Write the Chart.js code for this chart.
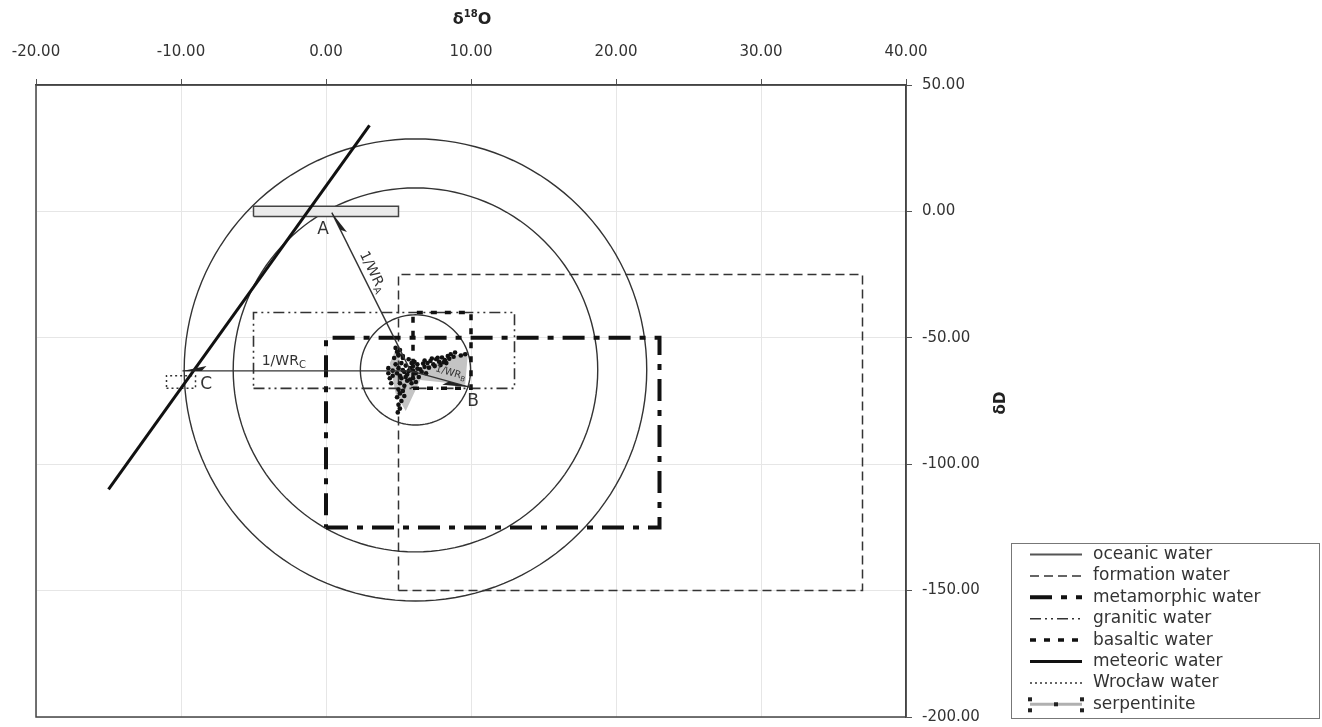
<!DOCTYPE html>
<html>
<head>
<meta charset="utf-8">
<script src="https://cdn.jsdelivr.net/npm/chart.js@4"></script>
<style>
  html, body { margin: 0; padding: 0; background: #fff; }
  #wrap { width: 1322px; height: 727px; position: relative; }
</style>
</head>
<body>
<div id="wrap"><canvas id="plot"></canvas></div>
<script>
// axis ticks
const xTicks = [-20, -10, 0, 10, 20, 30, 40];
const yTicks = [-200, -150, -100, -50, 0, 50];

// water fields as boxes: [min, max]
const formationX = [5, 37],     formationY = [-150, -25];
const metamorphicX = [0, 23],   metamorphicY = [-125, -50];
const graniticX = [-5, 13],     graniticY = [-70, -40];
const basalticX = [6, 10],      basalticY = [-70, -40];
const wroclawX = [-11, -9],     wroclawY = [-70, -65];
const serpentiniteX = [-5, 5],  serpentiniteY = [-2, 2];

// meteoric water line
const meteoricX = [-15, 3];
const meteoricY = [-110, 34];

// circles round the sample mean
const circleCenter = [6.17, -62.7];
const circleRx = [3.8, 12.57, 15.95];
const circleRy = [21.8, 72.0, 91.4];

// 1/WR arrows: start, then ends A, B, C
const arrowStart = [5.83, -63.1];
const arrowEndX = [0.4, 9.97, -9.9];
const arrowEndY = [-0.5, -69.6, -63.1];

// samples
const sampleX = [5.2, 5.5, 5.8, 6.0, 5.4, 5.0, 5.6, 6.2, 6.5, 6.8, 5.9, 5.3, 5.7, 6.1, 4.9, 5.2, 5.6, 6.0, 6.4, 6.9,
  5.1, 5.4, 5.9, 4.8, 5.0, 6.3, 6.6, 5.5, 6.0, 5.3, 5.7, 6.3, 5.1, 6.7, 5.8, 6.2,
  7.0, 7.2, 7.4, 7.6, 7.8, 8.0, 8.2, 8.4, 8.6, 8.8, 8.9, 7.1, 7.5, 7.9, 8.3, 6.8, 9.3, 9.6, 7.3, 7.7, 8.1, 8.5,
  5.0, 5.1, 4.9, 5.2, 5.0, 5.1, 5.3, 5.4, 4.95,
  4.3, 4.3, 4.4, 4.5, 4.6, 4.6,
  4.8, 4.9, 5.0, 5.1, 4.7, 5.3];
const sampleY = [-60, -61, -62, -63, -63.5, -62, -64.5, -64, -62.5, -61.5, -60, -58, -58.5, -59.5, -64, -66, -67, -66, -65.5, -64,
  -68, -69, -68, -60.5, -57, -60.5, -63.5, -65.5, -61.3, -62.8, -63.2, -62.2, -65, -60.2, -66.5, -67.5,
  -60, -59.2, -60.5, -58.5, -59.5, -57.8, -58.8, -57.2, -56.5, -57.5, -55.8, -61.8, -61.2, -60.8, -60, -59, -57, -56.5, -58.2, -57.9, -59.7, -58.3,
  -70.5, -72, -73.5, -75, -76.5, -78, -71, -73, -79.5,
  -62, -64, -66, -68, -63, -65,
  -54, -55.5, -56.5, -54.8, -58, -57.2];

// grey spread of the samples
const hullX = [5.3, 9.8, 9.6, 6.5, 5.5, 4.8, 4.4, 4.9, 5.3];
const hullY = [-64.7, -55.2, -68.6, -66.7, -79, -72, -60, -53.5, -64.7];

// labels
const pointLabels = ['A', 'B', 'C'];
const pointLabelX = [-0.21, 10.15, -8.26];
const pointLabelY = [-7, -75.4, -68.7];
const wrSubs = ['A', 'B', 'C'];
const wrLabelX = [3.2, 8.59, -2.91];
const wrLabelY = [-24.0, -63.9, -59.2];
const wrRotation = [64, 16, 0];
const wrSize = [14, 10, 14];

const legendLabels = ['oceanic water', 'formation water', 'metamorphic water', 'granitic water',
  'basaltic water', 'meteoric water', 'Wrocław water', 'serpentinite'];

const STYLE = {
  'oceanic water':     { color: '#555', width: 2,   dash: [] },
  'formation water':   { color: '#333', width: 1.5, dash: [9, 5] },
  'metamorphic water': { color: '#111', width: 4,   dash: [22, 9, 6, 9] },
  'granitic water':    { color: '#333', width: 1.6, dash: [11, 4, 2, 4, 2, 4] },
  'basaltic water':    { color: '#111', width: 3.5, dash: [6, 8] },
  'meteoric water':    { color: '#111', width: 3,   dash: [] },
  'Wrocław water':     { color: '#333', width: 1.5, dash: [2, 3] },
  'serpentinite':      { color: '#444', width: 1.5, dash: [], fill: '#ebebeb' }
};

function rect(xs, ys) {
  return [{x: xs[0], y: ys[0]}, {x: xs[1], y: ys[0]}, {x: xs[1], y: ys[1]},
          {x: xs[0], y: ys[1]}, {x: xs[0], y: ys[0]}];
}
function pairs(xs, ys) {
  return xs.map((v, i) => ({x: v, y: ys[i]}));
}
function ellipse(i) {
  const pts = [];
  for (let k = 0; k <= 144; k++) {
    const t = k / 144 * 2 * Math.PI;
    pts.push({x: circleCenter[0] + circleRx[i] * Math.cos(t), y: circleCenter[1] + circleRy[i] * Math.sin(t)});
  }
  return pts;
}
function lineSet(label, data, st, order) {
  return {
    label: label, data: data, showLine: true, pointRadius: 0, tension: 0,
    borderColor: st.color, borderWidth: st.width,
    // a dash with no gap keeps Chart.js off its x-sorted fast path
    borderDash: st.dash.length ? st.dash : [4000, 0],
    borderJoinStyle: 'miter', fill: st.fill ? 'shape' : false,
    backgroundColor: st.fill || 'transparent', order: order
  };
}

const thin = { color: '#333', width: 1.4, dash: [] };
const datasets = [
  { label: 'spread', data: pairs(hullX, hullY), showLine: true, pointRadius: 0, borderWidth: 0,
    borderColor: 'rgba(0,0,0,0)', backgroundColor: '#c4c4c4', fill: 'shape', order: 20 },
  lineSet('circle1', ellipse(0), thin, 10),
  lineSet('circle2', ellipse(1), thin, 10),
  lineSet('circle3', ellipse(2), thin, 10),
  lineSet('formation water', rect(formationX, formationY), STYLE['formation water'], 9),
  lineSet('metamorphic water', rect(metamorphicX, metamorphicY), STYLE['metamorphic water'], 8),
  lineSet('granitic water', rect(graniticX, graniticY), STYLE['granitic water'], 7),
  lineSet('basaltic water', rect(basalticX, basalticY), STYLE['basaltic water'], 6),
  lineSet('Wrocław water', rect(wroclawX, wroclawY), STYLE['Wrocław water'], 6),
  lineSet('serpentinite', rect(serpentiniteX, serpentiniteY), STYLE['serpentinite'], 5),
  lineSet('meteoric water', pairs(meteoricX, meteoricY), STYLE['meteoric water'], 4),
  { label: 'samples', data: pairs(sampleX, sampleY), showLine: false, pointRadius: 2.3,
    pointBorderWidth: 0, backgroundColor: '#111', order: 3 }
];
arrowEndX.forEach((x, i) => {
  datasets.push(lineSet('arrow' + i, [{x: arrowStart[0], y: arrowStart[1]}, {x: x, y: arrowEndY[i]}], thin, 2));
});

const FONT = 'DejaVu Sans';

function textSub(ctx, main, sub, x, y, size, rot) {
  ctx.save();
  ctx.translate(x, y);
  ctx.rotate(rot * Math.PI / 180);
  ctx.font = size + 'px "' + FONT + '"';
  const w1 = ctx.measureText(main).width;
  ctx.font = Math.round(size * 0.7) + 'px "' + FONT + '"';
  const w2 = ctx.measureText(sub).width;
  const x0 = -(w1 + w2) / 2;
  ctx.textBaseline = 'middle';
  ctx.textAlign = 'left';
  ctx.font = size + 'px "' + FONT + '"';
  ctx.fillText(main, x0, 0);
  ctx.font = Math.round(size * 0.7) + 'px "' + FONT + '"';
  ctx.fillText(sub, x0 + w1, size * 0.3);
  ctx.restore();
}

const decor = {
  id: 'decor',
  beforeDatasetsDraw(chart) {
    const {ctx, chartArea: a} = chart;
    ctx.save();
    ctx.strokeStyle = '#444';
    ctx.lineWidth = 1.5;
    ctx.strokeRect(a.left, a.top, a.right - a.left, a.bottom - a.top);
    ctx.restore();
  },
  afterDatasetsDraw(chart) {
    const {ctx} = chart;
    const sx = chart.scales.x, sy = chart.scales.y;
    ctx.save();
    // arrow heads
    const x0 = sx.getPixelForValue(arrowStart[0]), y0 = sy.getPixelForValue(arrowStart[1]);
    arrowEndX.forEach((v, i) => {
      const x1 = sx.getPixelForValue(v), y1 = sy.getPixelForValue(arrowEndY[i]);
      const len = Math.hypot(x1 - x0, y1 - y0);
      const dx = (x1 - x0) / len, dy = (y1 - y0) / len;
      const L = i === 1 ? 28 : 24, W = 5;
      ctx.fillStyle = '#222';
      ctx.beginPath();
      ctx.moveTo(x1, y1);
      ctx.lineTo(x1 - dx * L - dy * W, y1 - dy * L + dx * W);
      ctx.lineTo(x1 - dx * L * 0.8, y1 - dy * L * 0.8);
      ctx.closePath();
      ctx.fill();
    });
    // labels
    ctx.fillStyle = '#333';
    ctx.textAlign = 'center';
    ctx.textBaseline = 'middle';
    ctx.font = '17px "' + FONT + '"';
    pointLabels.forEach((t, i) => {
      ctx.fillText(t, sx.getPixelForValue(pointLabelX[i]), sy.getPixelForValue(pointLabelY[i]));
    });
    wrSubs.forEach((s, i) => {
      textSub(ctx, '1/WR', s, sx.getPixelForValue(wrLabelX[i]), sy.getPixelForValue(wrLabelY[i]), wrSize[i], wrRotation[i]);
    });
    // axis titles
    ctx.fillStyle = '#222';
    ctx.textBaseline = 'middle';
    ctx.textAlign = 'left';
    ctx.font = 'bold 16px "' + FONT + '"';
    const wd = ctx.measureText('δ').width, wo = ctx.measureText('O').width;
    ctx.font = 'bold 10px "' + FONT + '"';
    const ws = ctx.measureText('18').width;
    let tx = 472 - (wd + ws + wo) / 2;
    ctx.font = 'bold 16px "' + FONT + '"';
    ctx.fillText('δ', tx, 20);
    ctx.font = 'bold 10px "' + FONT + '"';
    ctx.fillText('18', tx + wd, 14);
    ctx.font = 'bold 16px "' + FONT + '"';
    ctx.fillText('O', tx + wd + ws, 20);
    ctx.save();
    ctx.translate(1001, 403);
    ctx.rotate(-Math.PI / 2);
    ctx.textAlign = 'center';
    ctx.font = 'bold 15px "' + FONT + '"';
    ctx.fillText('δD', 0, 0);
    ctx.restore();
    // legend
    ctx.strokeStyle = '#777';
    ctx.lineWidth = 1;
    ctx.strokeRect(1011.5, 543.5, 308, 175);
    legendLabels.forEach((lab, i) => {
      const st = STYLE[lab];
      const y = 554.5 + i * 21.4;
      ctx.save();
      if (lab === 'serpentinite') {
        ctx.strokeStyle = '#b0b0b0';
        ctx.lineWidth = 3;
        ctx.beginPath(); ctx.moveTo(1030, y); ctx.lineTo(1082, y); ctx.stroke();
        ctx.fillStyle = '#222';
        [[1030, y - 5], [1030, y + 6], [1082, y - 5], [1082, y + 6], [1056, y]].forEach(p => {
          ctx.fillRect(p[0] - 2, p[1] - 2, 4, 4);
        });
      } else {
        ctx.strokeStyle = st.color;
        ctx.lineWidth = st.width;
        ctx.setLineDash(st.dash);
        ctx.beginPath(); ctx.moveTo(1030, y); ctx.lineTo(1082, y); ctx.stroke();
      }
      ctx.restore();
      ctx.fillStyle = '#333';
      ctx.textAlign = 'left';
      ctx.textBaseline = 'middle';
      ctx.font = '17px "' + FONT + '"';
      ctx.fillText(lab, 1093, y);
    });
    ctx.restore();
  }
};

const config = {
  type: 'scatter',
  data: { datasets: datasets },
  options: {
    responsive: true,
    maintainAspectRatio: false,
    animation: false,
    layout: { padding: { left: 36, right: 0, top: 0, bottom: 10 } },
    plugins: { legend: { display: false }, tooltip: { enabled: false } },
    scales: {
      x: {
        type: 'linear', position: 'top', min: -20, max: 40,
        afterBuildTicks: s => { s.ticks = xTicks.map(v => ({value: v})); },
        afterFit: s => { s.height = 85; s.paddingLeft = 0; s.paddingRight = 0; },
        ticks: { callback: v => v.toFixed(2), color: '#333', padding: 18, maxRotation: 0,
                 font: { family: FONT, size: 15 } },
        grid: { color: '#e6e6e6', tickColor: '#555', tickLength: 6 },
        border: { color: '#444', width: 1.5 }
      },
      y: {
        type: 'linear', position: 'right', min: -200, max: 50,
        afterBuildTicks: s => { s.ticks = yTicks.map(v => ({value: v})); },
        afterFit: s => { s.width = 416; s.paddingTop = 0; s.paddingBottom = 0; },
        ticks: { callback: v => v.toFixed(2), color: '#333', padding: 10,
                 font: { family: FONT, size: 15 } },
        grid: { color: '#e6e6e6', tickColor: '#555', tickLength: 6 },
        border: { color: '#444', width: 1.5 }
      }
    }
  },
  plugins: [decor]
};

const chart = new Chart(document.getElementById('plot'), config);
</script>
</body>
</html>
